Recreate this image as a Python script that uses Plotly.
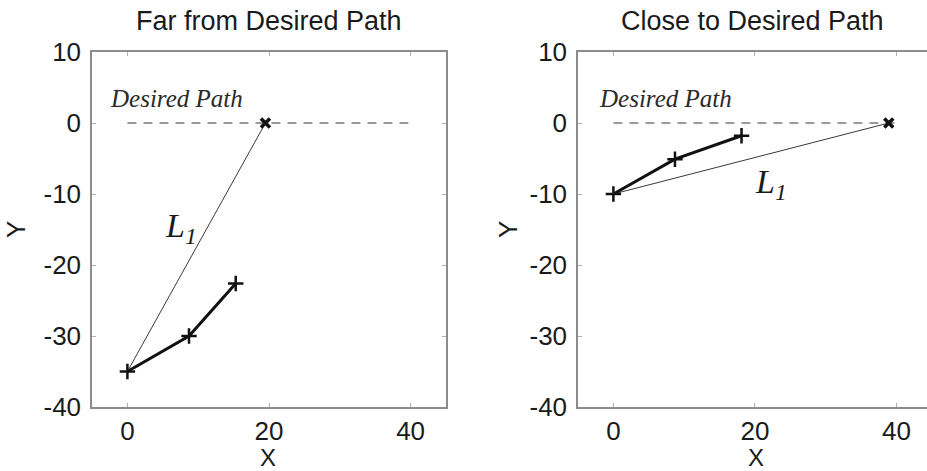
import plotly.graph_objects as go
from plotly.subplots import make_subplots

# Vehicle path samples (X, Y) for each scenario
far_path_x = [0, 8.7, 15.3]
far_path_y = [-35, -30, -22.6]
far_target = (19.5, 0)

close_path_x = [0, 8.7, 18.1]
close_path_y = [-10, -5.1, -1.8]
close_target = (38.9, 0)

desired_x = [0, 40]
desired_y = [0, 0]

titles = ["Far from Desired Path", "Close to Desired Path"]
x_ticks = [0, 20, 40]
y_ticks = [10, 0, -10, -20, -30, -40]
y_tick_text = ["10", "0", "-10", "-20", "-30", "-40"]

W, H = 927, 471
ML, MR, MT, MB = 92, 0, 52, 64
PW = W - ML - MR
PH = H - MT - MB

def px_x(p):
    return (p - ML) / PW

def px_y(p):
    return (H - MB - p) / PH

SANS = "Liberation Sans, Arial, sans-serif"
SERIF = "Liberation Serif, Times New Roman, serif"
TXT = "#1a1a1a"
AXC = "#8c8c8c"

fig = make_subplots(rows=1, cols=2)

panels = [
    (1, far_path_x, far_path_y, far_target),
    (2, close_path_x, close_path_y, close_target),
]

for col, px, py, tgt in panels:
    # desired path (dashed)
    fig.add_trace(go.Scatter(x=desired_x, y=desired_y, mode="lines",
                             line=dict(color="#7a7a7a", width=1.3, dash="9px,7px"),
                             showlegend=False, hoverinfo="skip"), row=1, col=col)
    # L1 line from start point to look-ahead target
    fig.add_trace(go.Scatter(x=[px[0], tgt[0]], y=[py[0], tgt[1]], mode="lines",
                             line=dict(color="#222222", width=0.9),
                             showlegend=False), row=1, col=col)
    # vehicle path
    fig.add_trace(go.Scatter(x=px, y=py, mode="lines+markers",
                             line=dict(color="#111111", width=3),
                             marker=dict(symbol="cross-thin", size=11,
                                         line=dict(color="#111111", width=2.5)),
                             showlegend=False), row=1, col=col)
    # target marker
    fig.add_trace(go.Scatter(x=[tgt[0]], y=[tgt[1]], mode="markers",
                             marker=dict(symbol="x-thin", size=9,
                                         line=dict(color="#111111", width=3.5)),
                             showlegend=False), row=1, col=col)

left_dom = [0, px_x(446)]
right_dom = [px_x(578), 1]

axis_common = dict(showgrid=False, zeroline=False, showline=True, linecolor=AXC,
                   linewidth=1.5, ticks="inside", ticklen=4, tickcolor="#b0b0b0",
                   tickwidth=1, tickfont=dict(family=SANS, size=26, color=TXT))

fig.update_xaxes(**axis_common, tickvals=x_ticks, mirror="ticks")
fig.update_yaxes(**axis_common, tickvals=y_ticks, ticktext=y_tick_text,
                 range=[-40, 10], ticklabelstandoff=4)
fig.update_xaxes(domain=left_dom, range=[-5, 45], row=1, col=1)
fig.update_xaxes(domain=right_dom, range=[-5, 44.3], row=1, col=2)
fig.update_yaxes(mirror="ticks", row=1, col=1)
fig.update_yaxes(mirror=False, row=1, col=2)

ann = []
# subplot titles
for cx, t in zip([268.5, 752], titles):
    ann.append(dict(text=t, x=px_x(cx), y=px_y(21), xref="paper", yref="paper",
                    showarrow=False, xanchor="center", yanchor="middle",
                    font=dict(family=SANS, size=27, color=TXT)))
# axis titles
for cx in [268, 756]:
    ann.append(dict(text="X", x=px_x(cx), y=px_y(457), xref="paper", yref="paper",
                    showarrow=False, xanchor="center", yanchor="middle",
                    font=dict(family=SANS, size=24, color=TXT)))
for cx in [16, 508]:
    ann.append(dict(text="Y", x=px_x(cx), y=px_y(230), xref="paper", yref="paper",
                    showarrow=False, xanchor="center", yanchor="middle", textangle=-90,
                    font=dict(family=SANS, size=26, color=TXT)))

# in-plot labels
for xr, yr, lx, ly in [("x", "y", -2.8, 1.2), ("x2", "y2", -2.3, 1.2)]:
    ann.append(dict(text="<i>Desired Path</i>", x=lx, y=ly, xref=xr, yref=yr,
                    showarrow=False, xanchor="left", yanchor="bottom",
                    font=dict(family=SERIF, size=25, color="#2a2a2a")))
for xr, yr, lx, ly in [("x", "y", 7.6, -14.8), ("x2", "y2", 22.2, -8.6)]:
    ann.append(dict(text="<i>L</i><sub><i>1</i></sub>", x=lx, y=ly, xref=xr, yref=yr,
                    showarrow=False, xanchor="center", yanchor="middle",
                    font=dict(family=SERIF, size=34, color="#1a1a1a")))

fig.update_layout(width=W, height=H, margin=dict(l=ML, r=MR, t=MT, b=MB),
                  plot_bgcolor="white", paper_bgcolor="white",
                  annotations=ann, showlegend=False)

fig.write_html("out.html")
